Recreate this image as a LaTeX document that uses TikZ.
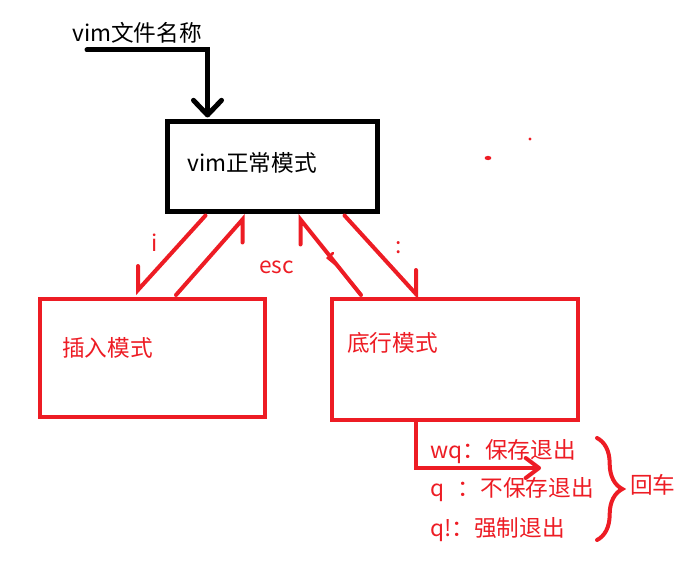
\documentclass[tikz,border=0pt]{standalone}
\usepackage{fontspec}
\setmainfont{Noto Sans CJK SC}
\usepackage{tikz}
\usetikzlibrary{arrows.meta,calc,decorations.pathreplacing}
\definecolor{paintred}{RGB}{237,28,36}
\newcommand{\pxu}{0.75pt}

\begin{document}
\begin{tikzpicture}[x=0.75pt, y=-0.75pt, line join=miter,
    txt/.style={inner sep=0pt, anchor=west, font=\fontsize{17}{20}\selectfont},
    redtxt/.style={txt, text=paintred},
    normalbox/.style={draw=black, line width=3.75pt, inner sep=0pt},
    modebox/.style={draw=paintred, line width=3pt, inner sep=0pt},
    blackline/.style={draw=black, line width=3.75pt, line cap=round},
    redline/.style={draw=paintred, line width=3pt, line cap=round}]
    \useasboundingbox (0,0) rectangle (699,570);

    % Command line
    \node[txt] (fname) at (72,33) {vim文件名称};

    % Modes
    \node[normalbox, minimum width=210*\pxu, minimum height=90*\pxu] (normal) at (272,167) {};
    \node[txt] (normaltxt) at (187,163) {vim正常模式};
    \node[modebox, minimum width=225*\pxu, minimum height=118*\pxu] (insert) at (152.5,358) {};
    \node[redtxt] (inserttxt) at (62,348) {插入模式};
    \node[modebox, minimum width=246*\pxu, minimum height=121*\pxu] (lower) at (455,359.5) {};
    \node[redtxt] (lowertxt) at (347,343) {底行模式};

    % Open the file
    \draw[blackline, -{Straight Barb[round, length=11pt, width=21pt]}]
        ($(fname.west)+(15,17)$) -| ($(normal.north west)+(43,-2)$);

    % Switching between modes
    \draw[redline] ($(normal.south west)+(41,1)$) -- ($(insert.north west)+(100,-7)$) -- ++(0,-24);
    \draw[redline] ($(insert.north west)+(138,-2)$) -- ($(normal.south west)+(78,5)$) -- ++(0,23);
    \draw[redline] ($(lower.north west)+(31,-2)$) -- ($(normal.south west)+(136,5)$) -- ++(0,25);
    \draw[redline, line width=2pt] (333,253) -- (328,258) -- (340,268);
    \draw[redline] ($(normal.south west)+(180,1)$) -- ($(lower.north west)+(86,-3)$) -- ++(0,-24);
    \node[redtxt] (keyi) at (151,243) {i};
    \node[redtxt] (keyesc) at (259,267) {esc};
    \node[redtxt] (keycolon) at (395,248) {:};

    % Last line commands
    \coordinate (enter) at (541,468);
    \draw[redline, -{Straight Barb[round, length=10pt, width=15pt]}]
        ($(lower.south west)+(86,0)$) |- (enter);
    \node[redtxt] (wq) at (430,452) {wq：保存退出};
    \node[redtxt] (quit) at (430,490) {q\hspace{0.6em}：不保存退出};
    \node[redtxt] (force) at (430,530) {q!：强制退出};
    \draw[redline, decorate, decoration={brace, amplitude=19pt}] (597,438) -- (597,540);
    \node[redtxt] (enterkey) at (630,485) {回车};

    % Stray dots
    \fill[paintred] (488,158) ellipse [x radius=2.5pt, y radius=1.6pt];
    \fill[paintred] (530,139) circle [radius=1.2pt];
\end{tikzpicture}
\end{document}
